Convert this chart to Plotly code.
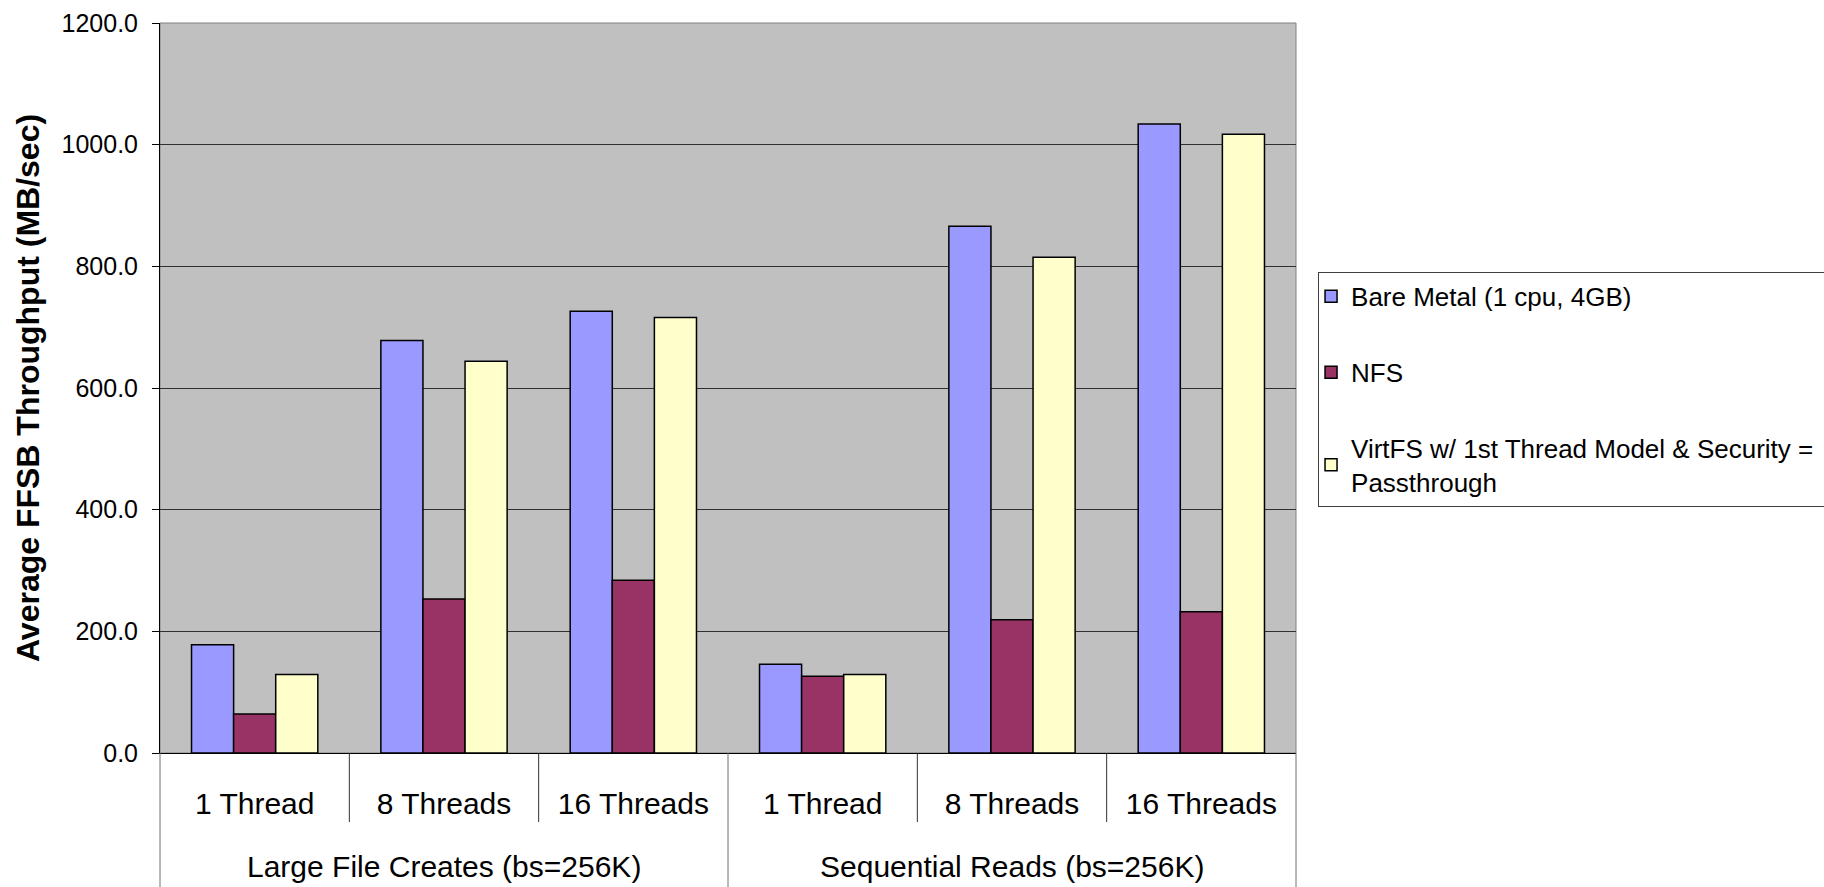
import plotly.graph_objects as go

# Benchmark groups and thread counts (two-level category axis)
groups = ["Large File Creates (bs=256K)"] * 3 + ["Sequential Reads (bs=256K)"] * 3
threads = ["1 Thread", "8 Threads", "16 Threads"] * 2

# Average FFSB throughput in MB/sec
bare_metal = [178, 678, 726, 146, 866, 1034]
nfs = [64, 253, 284, 126, 219, 232]
virtfs = [129, 644, 716, 129, 815, 1017]

series_names = [
    "Bare Metal (1 cpu, 4GB)",
    "NFS",
    "VirtFS w/ 1st Thread Model & Security = <br>Passthrough",
]
series_colors = ["#9999FF", "#993366", "#FFFFCC"]
series_values = [bare_metal, nfs, virtfs]

FONT = "Liberation Sans, Arial, sans-serif"

n = len(threads)
x_pos = list(range(n))

fig = go.Figure()
for name, color, vals in zip(series_names, series_colors, series_values):
    fig.add_trace(
        go.Bar(
            x=x_pos,
            y=vals,
            name=name,
            legendgroup=name,
            marker=dict(color=color, line=dict(color="black", width=1.5)),
        )
    )

fig.update_layout(
    width=1824,
    height=887,
    margin=dict(l=160, r=528, t=23, b=134, autoexpand=False),
    paper_bgcolor="white",
    plot_bgcolor="#C0C0C0",
    barmode="group",
    bargap=0.333,
    bargroupgap=0,
    font=dict(family=FONT, color="black"),
    legend=dict(
        x=1.0194,
        xanchor="left",
        y=0.659,
        yanchor="top",
        bgcolor="white",
        bordercolor="#404040",
        borderwidth=1,
        font=dict(family=FONT, size=26, color="black"),
        tracegroupgap=39,
        itemwidth=30,
        indentation=-8,
    ),
    showlegend=True,
)

fig.update_yaxes(
    range=[0, 1200],
    dtick=200,
    tickformat=".1f",
    showgrid=True,
    gridcolor="#303030",
    gridwidth=1,
    showline=True,
    linecolor="black",
    linewidth=1,
    ticks="outside",
    ticklen=7,
    tickcolor="black",
    ticklabelstandoff=9,
    tickfont=dict(family=FONT, size=25),
    zeroline=False,
    title=dict(
        text="<b>Average FFSB Throughput (MB/sec)</b>",
        font=dict(family=FONT, size=32),
        standoff=12,
    ),
)

# Inner level: thread counts as tick labels
fig.update_xaxes(
    range=[-0.5, n - 0.5],
    tickvals=x_pos,
    ticktext=threads,
    ticks="",
    showline=True,
    linecolor="black",
    linewidth=1,
    tickfont=dict(family=FONT, size=30),
    ticklabelstandoff=24,
    showgrid=False,
    zeroline=False,
)

# Grey plot-area border
fig.add_shape(
    type="rect", xref="paper", yref="paper", x0=0, y0=0, x1=1, y1=1,
    line=dict(color="#808080", width=1), layer="below",
)

# Category table lines below the plot: short lines between thread labels,
# full-height lines at the group boundaries
for k in range(n + 1):
    group_edge = k == 0 or k == n or groups[k] != groups[k - 1]
    fig.add_shape(
        type="line", xref="paper", yref="paper",
        x0=k / n, x1=k / n, y0=0, y1=-0.19 if group_edge else -0.0945,
        line=dict(color="#707070" if group_edge else "#303030", width=1),
    )

# Outer level: benchmark group labels
for g in dict.fromkeys(groups):
    idx = [i for i, gg in enumerate(groups) if gg == g]
    fig.add_annotation(
        x=sum(idx) / len(idx), xref="x", y=-0.156, yref="paper",
        text=g, showarrow=False, yanchor="middle",
        font=dict(family=FONT, size=30, color="black"),
    )

fig.write_html("out.html")
